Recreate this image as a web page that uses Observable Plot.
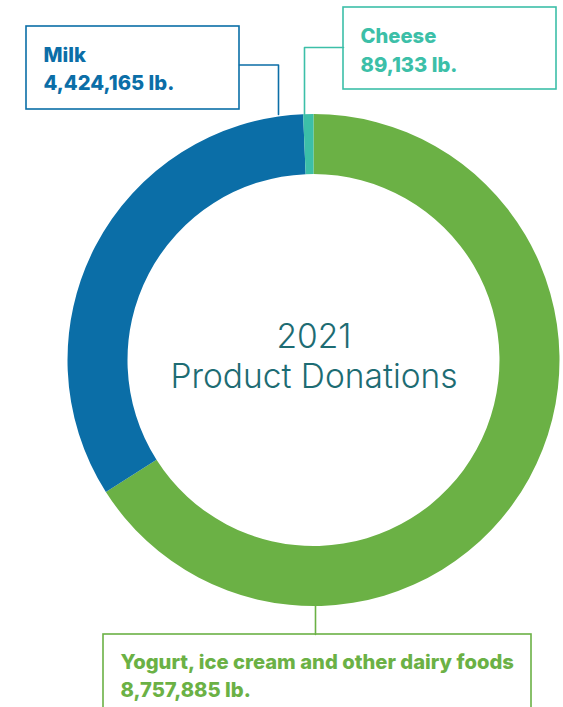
<!DOCTYPE html>
<html><head><meta charset="utf-8">
<script src="https://cdn.jsdelivr.net/npm/d3@7"></script>
<script src="https://cdn.jsdelivr.net/npm/@observablehq/plot@0.6"></script>
<style>html,body{margin:0;padding:0;background:#fff} #chart svg{display:block}</style>
</head><body><div id="chart"></div>
<script>
// ---- data ----
const categories = ["Yogurt, ice cream and other dairy foods", "Milk", "Cheese"];
const pounds = [8757885, 4424165, 89133];
const valueLabels = ["8,757,885 lb.", "4,424,165 lb.", "89,133 lb."];
const colors = ["#6bb145", "#0b6ea7", "#3cbfa8"];
const centerTitle = ["2021", "Product Donations"];

// ---- layout (pixel space) ----
const W = 563, H = 707;
const center = {x: 313.5, y: 360};
const outerR = 246, innerR = 186;
const boxes = [
  {k: 0, x1: 103, x2: 531, y1: 634, y2: 730},
  {k: 1, x1: 26, x2: 239, y1: 26, y2: 109},
  {k: 2, x1: 343, x2: 556, y1: 7, y2: 89}
];
const leaders = [
  {k: 0, pts: [[315, 606], [315, 634]]},
  {k: 1, pts: [[239, 64.5], [278, 64.5], [278, 114]]},
  {k: 2, pts: [[343, 47], [304, 47], [304, 114]]}
];
const labelPos = [
  {k: 0, x: 120, y1: 668, y2: 696},
  {k: 1, x: 43, y1: 61, y2: 89},
  {k: 2, x: 360, y1: 42, y2: 71}
];

const data = categories.map((c, i) => ({category: c, value: pounds[i], label: valueLabels[i], color: colors[i]}));
const colorOf = d3.scaleOrdinal(categories, colors);

const leaderRows = leaders.flatMap(l => l.pts.map(([x, y]) => ({x, y, category: categories[l.k]})));
const boxRows = boxes.map(b => ({...b, category: categories[b.k]}));
const labelRows = labelPos.flatMap(p => [
  {x: p.x, y: p.y1, text: categories[p.k], category: categories[p.k]},
  {x: p.x, y: p.y2, text: valueLabels[p.k], category: categories[p.k]}
]);
const titleRows = [
  {x: center.x, y: 347, text: centerTitle[0]},
  {x: center.x, y: 387, text: centerTitle[1]}
];

function donut(index, scales, values, dims, context) {
  const g = d3.create("svg:g")
    .attr("transform", `translate(${scales.x(center.x)},${scales.y(center.y)})`);
  const arcs = d3.pie().sort(null).value(d => d.value).startAngle(0).endAngle(2 * Math.PI)(data);
  const arc = d3.arc().innerRadius(innerR).outerRadius(outerR);
  g.selectAll("path").data(arcs).join("path")
    .attr("d", arc)
    .attr("fill", d => colorOf(d.data.category));
  return g.node();
}

const chart = Plot.plot({
  width: W, height: H,
  margin: 0,
  x: {domain: [0, W], range: [0, W], axis: null},
  y: {domain: [0, H], range: [0, H], axis: null},
  style: {fontFamily: "Inter, sans-serif", background: "#fff"},
  marks: [
    Plot.line(leaderRows, {x: "x", y: "y", z: "category", stroke: d => colorOf(d.category), strokeWidth: 1.6, curve: "linear"}),
    Plot.rect(boxRows, {x1: "x1", x2: "x2", y1: "y1", y2: "y2", fill: "none", stroke: d => colorOf(d.category), strokeWidth: 1.6}),
    donut,
    Plot.text(labelRows, {x: "x", y: "y", text: "text", fill: d => colorOf(d.category), textAnchor: "start", lineAnchor: "bottom", fontSize: 20.2, fontWeight: 800}),
    Plot.text(titleRows, {x: "x", y: "y", text: "text", fill: "#1d6c73", textAnchor: "middle", lineAnchor: "bottom", fontSize: 33.5, fontWeight: 300})
  ]
});
document.getElementById("chart").appendChild(chart);
</script>
</body></html>
